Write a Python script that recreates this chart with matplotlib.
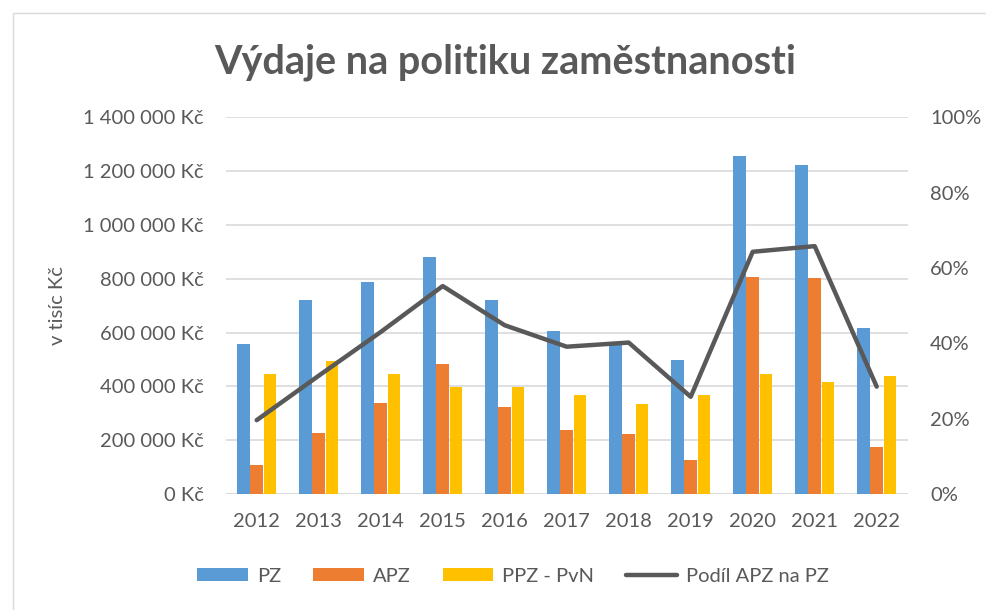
import numpy as np
import matplotlib.pyplot as plt
from matplotlib.patches import Rectangle
from matplotlib.ticker import FuncFormatter, MultipleLocator

years = ["2012", "2013", "2014", "2015", "2016", "2017", "2018", "2019", "2020", "2021", "2022"]
pz = [556, 722, 789, 880, 720, 607, 553, 498, 1255, 1221, 616]          # v tisících Kč
apz = [109, 227, 340, 483, 323, 237, 222, 128, 806, 801, 175]
ppz_pvn = [447, 493, 447, 396, 396, 369, 334, 369, 447, 417, 440]
podil = [19.6, 31.4, 43.0, 55.2, 44.8, 39.1, 40.2, 25.8, 64.3, 65.8, 28.5]  # %

C_PZ = "#5B9BD5"
C_APZ = "#ED7D31"
C_PPZ = "#FFC000"
C_LINE = "#595959"
C_TXT = "#595959"

plt.rcParams["font.family"] = ["Lato", "DejaVu Sans"]

fig = plt.figure(figsize=(9.87, 6.10), dpi=100)
W, H = 987, 610

# rámeček grafu
fig.patches.append(Rectangle((13 / W, -0.1), 1.2, 1 - 13 / H + 0.1, transform=fig.transFigure,
                             fill=False, edgecolor="#d9d9d9", linewidth=1.0))

ax = fig.add_axes([225.7 / W, 1 - 494 / H, (907.7 - 225.7) / W, (494 - 117.3) / H])
ax2 = ax.twinx()

x = np.arange(len(years))
w = 0.205
d = 0.215
ax.bar(x - d, [v * 1000 for v in pz], w, color=C_PZ, label="PZ", zorder=2)
ax.bar(x, [v * 1000 for v in apz], w, color=C_APZ, label="APZ", zorder=2)
ax.bar(x + d, [v * 1000 for v in ppz_pvn], w, color=C_PPZ, label="PPZ - PvN", zorder=2)
ax2.plot(x, [p / 100 for p in podil], color=C_LINE, lw=3.2, solid_capstyle="round",
         solid_joinstyle="round", label="Podíl APZ na PZ", zorder=3)

ax.set_xlim(-0.5, len(years) - 0.5)
ax.set_ylim(0, 1400000)
ax2.set_ylim(0, 1.0)
ax.yaxis.set_major_locator(MultipleLocator(200000))
ax2.yaxis.set_major_locator(MultipleLocator(0.2))
ax.yaxis.set_major_formatter(FuncFormatter(lambda v, p: f"{int(v):,} Kč".replace(",", " ")))
ax2.yaxis.set_major_formatter(FuncFormatter(lambda v, p: f"{v * 100:.0f}%"))
ax.set_xticks(x)
ax.set_xticklabels(years)

ax.grid(axis="y", color="#d9d9d9", linewidth=1.2, zorder=0)
ax.set_axisbelow(True)
for a in (ax, ax2):
    for s in ("top", "left", "right", "bottom"):
        a.spines[s].set_visible(False)
    a.tick_params(length=0, labelsize=14.5, labelcolor=C_TXT)
ax.axhline(0, color="#d9d9d9", linewidth=1.2, zorder=1)
ax.tick_params(axis="y", pad=16)
ax.tick_params(axis="x", pad=14)
ax2.tick_params(axis="y", pad=16)

ax.set_ylabel("v tisíc Kč", fontsize=14.5, color=C_TXT, labelpad=12)

fig.text(505 / W, 1 - 62 / H, "Výdaje na politiku zaměstnanosti", ha="center", va="center",
         fontsize=28.5, fontweight="bold", color=C_TXT)

h1, l1 = ax.get_legend_handles_labels()
h2, l2 = ax2.get_legend_handles_labels()
fig.legend(h1 + h2, l1 + l2, loc="center", bbox_to_anchor=(513 / W, 1 - 576 / H), ncol=4,
           frameon=False, fontsize=14.5, labelcolor=C_TXT, handlelength=2.5, handleheight=0.6,
           handletextpad=0.45, columnspacing=1.6)

fig.savefig("out.png", dpi=100)
